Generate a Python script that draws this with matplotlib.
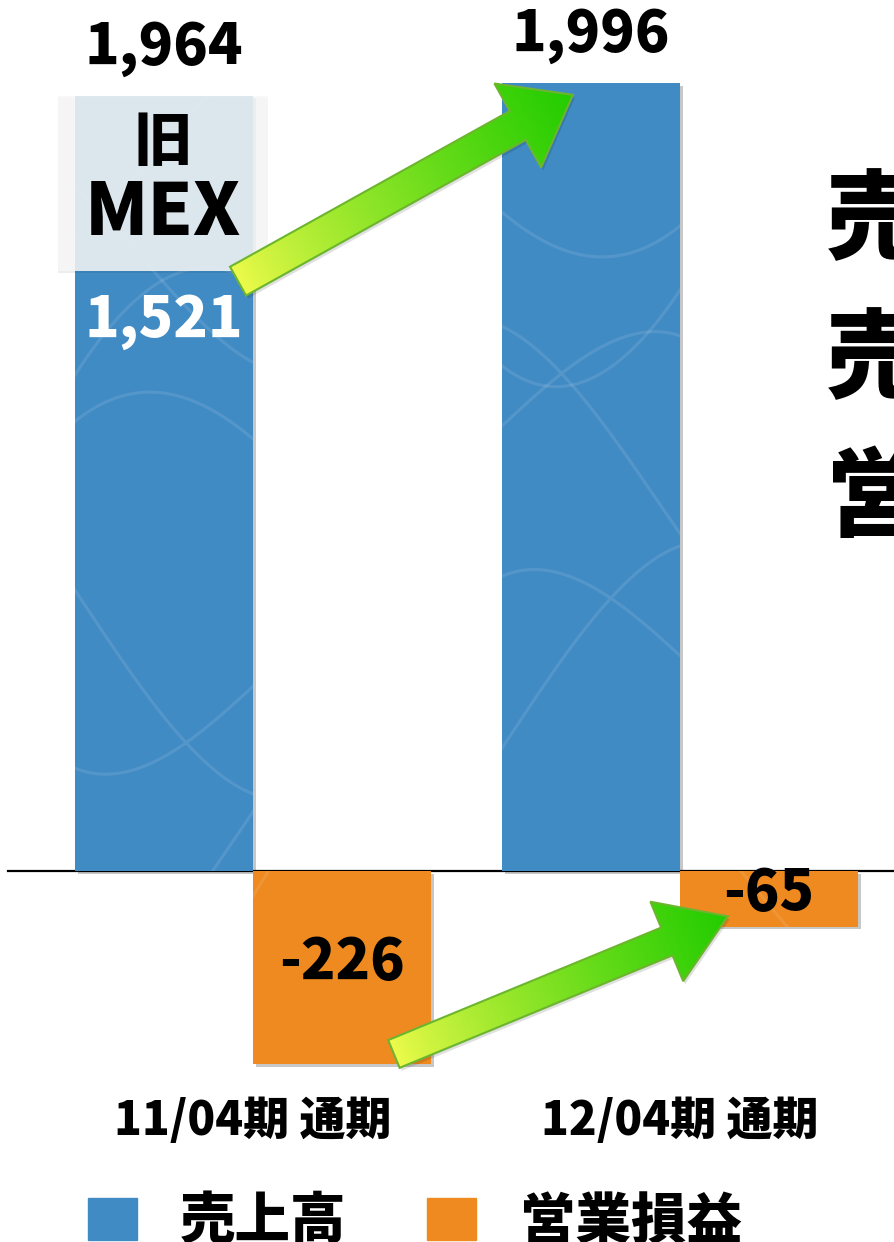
import matplotlib
matplotlib.use('Agg')
import matplotlib.pyplot as plt
import matplotlib.patheffects as pe
from matplotlib.patches import Polygon, Rectangle, Patch
from matplotlib.colors import to_rgb
import numpy as np

plt.rcParams['font.family'] = ['Noto Sans CJK JP', 'DejaVu Sans']

# 通期実績（百万円）
periods = ['11/04期 通期', '12/04期 通期']
series_names = ['売上高', '営業損益']
sales = [1964, 1996]
op_income = [-226, -65]
sales_excl_old_mex = 1521   # 旧MEX分を除いた売上高
side_notes = ['売', '売', '営']

blue = '#418bc4'
orange = '#ee8a1f'
HEAVY = 900

W, H, DPI = 894, 1242, 100
fig = plt.figure(figsize=(W / DPI, H / DPI), dpi=DPI)

# 売上高と営業損益は別スケール（0の位置は共通）
ax = fig.add_axes([0, 1 - 1080 / H, 1, 1080 / H])
ax2 = ax.twinx()
x = np.arange(len(periods))
w = 0.417
ax.set_xlim(-253 / 427, (W - 253) / 427)
ax.set_ylim(-(1080 - 871) / 0.3948, 871 / 0.3948)
ax2.set_ylim(-(1080 - 871) / 0.855, 871 / 0.855)

shadow = [pe.SimplePatchShadow(offset=(2, -2), shadow_rgbFace='k', alpha=0.22), pe.Normal()]

ax.axhline(0, xmin=8 / W, color='black', lw=1.6, zorder=1)
bars_s = ax.bar(x - w / 2, sales, w, color=blue, zorder=2)
bars_o = ax2.bar(x + w / 2, op_income, w, color=orange, zorder=2)
for b in list(bars_s) + list(bars_o):
    b.set_path_effects(shadow)


# バーの地模様（細い曲線）
def texture(a, bar, phase):
    x0, y0 = a.transData.transform((bar.get_x(), 0))
    x1, y1 = a.transData.transform((bar.get_x() + bar.get_width(), bar.get_height()))
    lo, hi = min(y0, y1), max(y0, y1)
    bw = x1 - x0
    inv = a.transData.inverted()
    t = np.linspace(0, 2 * np.pi, 400)
    k = 0
    yc = lo - 30
    while yc < hi + 100:
        ph = phase + k * 1.9
        px = x0 + bw * (0.5 + 1.1 * np.sin(t + ph))
        py = yc + 110 * np.sin(2 * t + ph) + 70 * np.cos(t - ph)
        dpts = inv.transform(np.column_stack([px, py]))
        ln, = a.plot(dpts[:, 0], dpts[:, 1], color='white', alpha=0.1, lw=2.2, zorder=2.1)
        ln.set_clip_path(bar)
        yc += 230
        k += 1


for i, b in enumerate(bars_s):
    texture(ax, b, 0.6 + 1.3 * i)
for i, b in enumerate(bars_o):
    texture(ax2, b, 2.1 + 0.9 * i)

lbl = dict(fontsize=41, fontweight=HEAVY, ha='center', va='center')
for xi, v in zip(x, sales):
    ax.annotate(f'{v:,}', (xi - w / 2, v), xytext=(0, 34), textcoords='offset points',
                zorder=5, **lbl)
for xi, v in zip(x, op_income):
    ax2.annotate(f'{v:,}', (xi + w / 2, v / 2), xytext=(0, 4), textcoords='offset points',
                 zorder=5, **lbl)

# 旧MEX分の表示
bx0 = -w - 17 / 427
bw_box = w + 32 / 427
box = Rectangle((bx0, sales_excl_old_mex), bw_box, sales[0] - sales_excl_old_mex,
                facecolor='#f7f7f7', alpha=0.86, edgecolor='none', zorder=3)
box.set_path_effects([pe.SimplePatchShadow(offset=(0, -2), shadow_rgbFace='k', alpha=0.07),
                      pe.Normal()])
ax.add_patch(box)
cx = bx0 + bw_box / 2
ax.annotate('旧', (cx, sales[0]), xytext=(0, -34), textcoords='offset points',
            fontsize=42, fontweight=HEAVY, ha='center', va='center', zorder=4)
ax.annotate('MEX', (cx, sales[0]), xytext=(0, -85), textcoords='offset points',
            fontsize=52, fontweight=HEAVY, ha='center', va='center', zorder=4)
ax.annotate(f'{sales_excl_old_mex:,}', (-w / 2, sales_excl_old_mex), xytext=(0, -37),
            textcoords='offset points', color='white', zorder=4, **lbl)

ax.set_xticks(x, periods, fontsize=33, fontweight=HEAVY)
ax.tick_params(axis='x', length=0, pad=13)
ax.set_yticks([])
ax2.set_yticks([])
for a in (ax, ax2):
    for s in a.spines.values():
        s.set_visible(False)

# 矢印（グラデーション）
ov = fig.add_axes([0, 0, 1, 1], zorder=10)
ov.set_xlim(0, W)
ov.set_ylim(H, 0)
ov.axis('off')


def to_px(a, pt):
    d = a.transData.transform(pt)
    return np.array([d[0], H - d[1]])


yy, xx = np.mgrid[0:H, 0:W] + 0.5


def grad_arrow(tail, tip, sw, hw, hl):
    d = tip - tail
    L = np.hypot(*d)
    d = d / L
    n = np.array([-d[1], d[0]])
    base = tip - d * hl
    pts = [tail + n * sw / 2, base + n * sw / 2, base + n * hw / 2, tip,
           base - n * hw / 2, base - n * sw / 2, tail - n * sw / 2]
    poly = Polygon(pts, closed=True, facecolor='none', edgecolor='#6cb52e', lw=1.5, zorder=3)
    sh = Polygon(np.array(pts) + [2, 3], closed=True, facecolor='k', alpha=0.12,
                 edgecolor='none', zorder=1)
    ov.add_patch(sh)
    t = np.clip(((xx - tail[0]) * d[0] + (yy - tail[1]) * d[1]) / L, 0, 1)[..., None]
    c0 = np.array(to_rgb('#f0fb4c'))
    c1 = np.array(to_rgb('#22cc00'))
    t = t ** 0.8
    img = c0 * (1 - t) + c1 * t
    im = ov.imshow(img, extent=(0, W, H, 0), zorder=2, interpolation='nearest')
    ov.add_patch(poly)
    im.set_clip_path(poly)


grad_arrow(to_px(ax, (-0.035, sales_excl_old_mex - 27)), to_px(ax, (1 - w + 0.166, sales[1] - 30)),
           33, 96, 63)
grad_arrow(to_px(ax2, (0.33, op_income[0] + 12)), to_px(ax2, (1.112, op_income[1] + 12)),
           30, 86, 66)
ov.set_xlim(0, W)
ov.set_ylim(H, 0)

for yc, s in zip([222, 361, 500], side_notes):
    fig.text(826 / W, 1 - yc / H, s, fontsize=70, fontweight=HEAVY, ha='left', va='center')

handles = [Patch(color=blue), Patch(color=orange)]
fig.legend(handles, series_names, loc='center left', bbox_to_anchor=(88 / W, 1 - 1222 / H),
           ncol=2, frameon=False, prop={'size': 40, 'weight': HEAVY},
           handlelength=0.88, handleheight=0.8, handletextpad=0.78, columnspacing=1.45,
           borderpad=0, borderaxespad=0)

fig.savefig('out.png', dpi=DPI)
